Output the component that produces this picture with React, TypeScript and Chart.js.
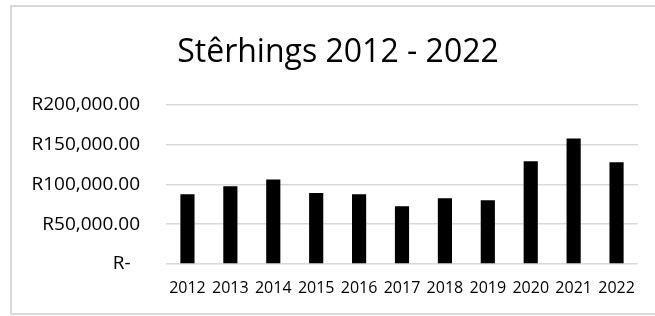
import React, { useEffect, useRef } from "react";
import { Chart, registerables } from "chart.js";

Chart.register(...registerables);

const TITLE = "Stêrhings 2012 - 2022";
const YEARS = ["2012", "2013", "2014", "2015", "2016", "2017", "2018", "2019", "2020", "2021", "2022"];
const AMOUNTS = [87500, 97500, 106000, 89000, 87500, 72500, 82500, 80000, 128800, 157500, 127500];
const Y_TICKS = [0, 50000, 100000, 150000, 200000];

const FONT = "'Open Sans', 'Noto Sans', sans-serif";

function formatRand(v: number): string {
  if (v === 0) return "R-\u2002";
  return "R" + v.toLocaleString("en-US", { minimumFractionDigits: 2, maximumFractionDigits: 2 });
}

const framePlugin = {
  id: "frameAndTitle",
  beforeDraw(chart: any) {
    const ctx = chart.ctx;
    ctx.save();
    ctx.fillStyle = "#ffffff";
    ctx.fillRect(0, 0, chart.width, chart.height);
    ctx.strokeStyle = "#d9d9d9";
    ctx.lineWidth = 2;
    ctx.strokeRect(11, 6, chart.width + 10, chart.height - 8);
    ctx.restore();
  },
  afterDraw(chart: any) {
    const ctx = chart.ctx;
    ctx.save();
    ctx.fillStyle = "#000000";
    ctx.font = `32px ${FONT}`;
    ctx.textAlign = "center";
    ctx.textBaseline = "alphabetic";
    ctx.fillText(TITLE, 338, 62);
    ctx.restore();
  },
};

export default function App() {
  const ref = useRef<HTMLCanvasElement | null>(null);

  useEffect(() => {
    document.body.style.margin = "0";
    document.body.style.overflow = "hidden";
    const canvas = ref.current;
    if (!canvas) return;
    const chart = new Chart(canvas, {
      type: "bar",
      data: {
        labels: YEARS,
        datasets: [
          {
            data: AMOUNTS,
            backgroundColor: "#000000",
            borderWidth: 0,
            barPercentage: 0.33,
            categoryPercentage: 1,
          },
        ],
      },
      options: {
        responsive: false,
        animation: false,
        devicePixelRatio: 1,
        layout: { padding: { left: 0, right: 17, top: 104.5, bottom: 0 } },
        plugins: {
          legend: { display: false },
          tooltip: { enabled: false },
          title: { display: false },
        },
        scales: {
          x: {
            grid: { display: false, drawTicks: false },
            border: { display: false },
            ticks: {
              color: "#000000",
              font: { family: FONT, size: 16 },
              padding: 15,
              maxRotation: 0,
              autoSkip: false,
            },
            afterFit(scale: any) {
              scale.height = 52;
            },
          },
          y: {
            min: 0,
            max: 200000,
            afterBuildTicks(scale: any) {
              scale.ticks = Y_TICKS.map((v) => ({ value: v }));
            },
            grid: { color: "#d9d9d9", lineWidth: 1.5, drawTicks: false },
            border: { display: false },
            ticks: {
              color: "#000000",
              font: { family: FONT, size: 19 },
              padding: 26,
              callback: (v: any) => formatRand(Number(v)),
            },
            afterFit(scale: any) {
              scale.width = 166;
            },
          },
        },
      },
      plugins: [framePlugin],
    });
    return () => chart.destroy();
  }, []);

  return (
    <div style={{ width: 655, height: 316 }}>
      <canvas ref={ref} width={655} height={316} style={{ display: "block" }} />
    </div>
  );
}
